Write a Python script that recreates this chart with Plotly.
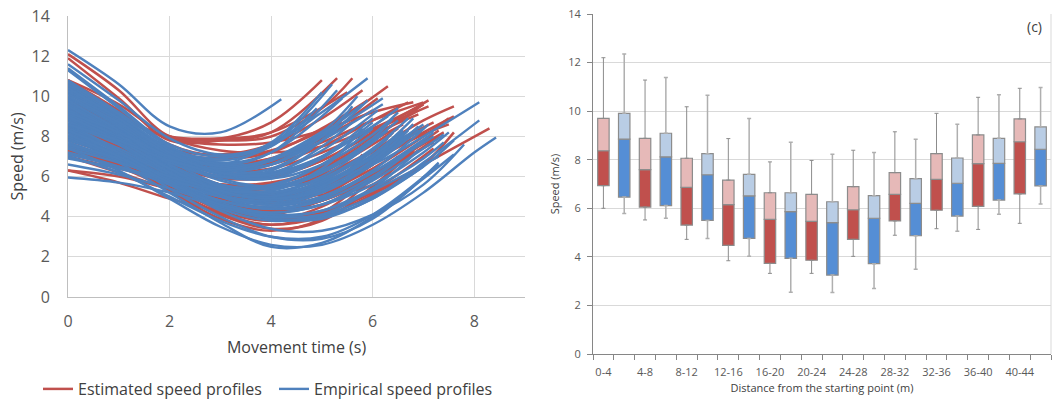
import plotly.graph_objects as go

# ---------------- Left panel: speed profiles ----------------
# speeds at t = 0, 1, 2, ... and the last value at the end time of the profile
red_end_time = [5.0, 5.3, 5.6, 6.3, 6.1, 7.1, 7.6, 7.6, 8.3, 7.4, 7.2, 6.8, 6.5, 6.0, 5.8,
                6.6, 7.0, 6.8, 6.2, 7.0, 6.7, 5.8, 7.5, 6.9, 7.2, 6.4, 7.1, 6.9, 7.3, 5.5,
                6.6, 7.6, 6.0, 6.9, 7.3, 6.4, 7.0, 6.5, 5.9, 7.2, 6.8, 7.5, 6.3, 7.0, 6.7]
red_speed = [
    [12.1, 10.3, 8.0, 7.9, 8.7, 10.8],
    [11.9, 9.9, 7.8, 7.8, 8.2, 10.9],
    [10.8, 9.6, 8.0, 7.8, 8.0, 9.4, 10.9],
    [10.8, 9.3, 7.6, 7.0, 7.3, 8.3, 10.5],
    [10.7, 9.0, 7.3, 6.6, 6.9, 8.0, 9.9],
    [10.5, 8.6, 6.9, 6.0, 6.0, 6.8, 8.2, 9.8],
    [10.6, 8.8, 6.8, 5.6, 5.4, 6.1, 7.3, 8.8, 9.5],
    [9.8, 8.3, 6.4, 5.2, 4.9, 5.6, 6.8, 8.2, 9.0],
    [9.3, 7.8, 6.0, 4.6, 4.0, 4.2, 5.2, 6.6, 8.4],
    [9.0, 7.6, 5.9, 4.6, 4.2, 4.8, 6.2, 8.2],
    [8.8, 7.4, 5.7, 4.3, 3.8, 4.5, 6.0, 7.7],
    [8.5, 7.2, 5.5, 4.1, 3.4, 3.8, 5.5, 7.3],
    [8.2, 7.0, 5.3, 3.9, 3.3, 3.9, 5.9, 7.0],
    [8.0, 6.9, 5.4, 4.2, 3.6, 4.2, 6.2],
    [7.6, 6.7, 5.5, 4.5, 4.1, 5.0, 7.1],
    [7.3, 6.5, 5.6, 4.8, 4.5, 5.2, 6.6, 8.0],
    [7.2, 6.6, 5.8, 5.1, 5.0, 5.6, 6.9, 8.4],
    [6.3, 6.0, 5.4, 4.9, 4.8, 5.4, 6.8, 8.6],
    [6.3, 5.7, 4.9, 4.3, 4.2, 5.0, 7.3],
    [9.5, 8.0, 6.5, 5.6, 5.6, 6.4, 7.9, 9.6],
    [9.8, 8.4, 7.0, 6.4, 6.6, 7.5, 8.8, 9.7],
    [10.2, 8.8, 7.4, 7.1, 7.6, 8.9, 10.3],
    [8.6, 7.4, 6.0, 5.0, 4.7, 5.2, 6.4, 8.0, 8.9],
    [9.2, 7.9, 6.6, 5.9, 6.0, 6.8, 8.1, 9.1],
    [7.8, 7.0, 6.1, 5.5, 5.4, 6.0, 7.2, 8.7],
    [8.9, 7.6, 6.2, 5.2, 5.0, 5.8, 7.3, 8.2],
    [10.0, 8.5, 7.0, 6.3, 6.4, 7.2, 8.3, 9.5],
    [7.5, 6.6, 5.6, 4.7, 4.3, 4.8, 6.0, 7.5],
    [9.9, 8.1, 6.2, 4.9, 4.4, 4.8, 5.9, 8.0],
    [10.5, 9.0, 8.0, 7.9, 8.2, 10.2],
    [7.0, 6.4, 5.9, 5.6, 5.7, 6.4, 7.8, 8.6],
    [8.0, 6.8, 5.3, 4.1, 3.6, 4.0, 5.1, 6.6, 8.2],
    [9.6, 8.3, 7.0, 6.4, 6.7, 7.9, 9.3],
    [9.0, 7.7, 6.4, 5.6, 5.6, 6.5, 8.0, 9.3],
    [8.4, 7.2, 5.8, 4.7, 4.3, 4.8, 6.1, 8.3],
    [7.9, 6.9, 5.7, 4.7, 4.3, 5.0, 6.6, 7.4],
    [10.2, 8.6, 7.1, 6.6, 6.9, 7.7, 8.8, 9.7],
    [8.8, 7.6, 6.3, 5.5, 5.4, 6.2, 7.6, 8.4],
    [9.0, 8.1, 7.2, 6.9, 7.2, 8.4, 9.8],
    [7.4, 6.5, 5.4, 4.4, 3.9, 4.2, 5.3, 7.4],
    [10.4, 9.0, 7.9, 7.6, 7.7, 8.3, 9.2, 9.7],
    [9.1, 7.8, 6.3, 5.3, 5.1, 5.6, 6.8, 8.1, 8.6],
    [8.6, 7.5, 6.1, 5.1, 4.8, 5.4, 7.4],
    [10.8, 9.1, 7.9, 7.3, 7.2, 7.5, 8.4, 9.6],
    [7.0, 6.2, 5.4, 5.0, 5.0, 5.1, 5.6, 7.2],
]

blue_end_time = [4.2, 5.9, 5.2, 8.1, 8.1, 8.43, 7.6, 7.3, 6.5, 6.0, 5.6, 6.8, 7.0, 6.2, 7.2,
                 7.4, 6.6, 5.8, 6.9, 7.1, 6.3, 7.3, 7.0, 5.4, 5.0, 5.7, 6.1, 6.4, 7.5, 7.0,
                 6.7, 5.5, 6.0, 5.3, 4.8, 7.8, 7.3, 6.9, 6.5, 6.2,
                 6.0, 6.3, 6.6, 5.8, 5.5, 6.9, 7.1, 6.4, 5.9, 6.2, 4.9, 6.7, 7.4, 6.1, 6.8,
                 5.6, 7.2, 6.5, 5.1, 6.0, 7.6, 6.6, 5.3, 6.3, 7.0]
blue_speed = [
    [12.3, 10.6, 8.5, 8.2, 9.85],
    [11.6, 9.8, 7.9, 7.1, 7.6, 9.2, 10.9],
    [11.4, 9.5, 7.6, 7.0, 7.6, 10.6],
    [10.2, 8.6, 7.0, 5.9, 5.5, 5.8, 6.6, 8.0, 9.7],
    [8.9, 7.6, 6.0, 4.6, 3.9, 4.0, 4.9, 6.7, 8.8],
    [7.4, 6.3, 4.9, 3.5, 2.6, 2.6, 3.6, 5.2, 7.2, 7.95],
    [8.0, 6.7, 5.2, 3.7, 2.5, 2.7, 4.0, 5.9, 7.1],
    [8.3, 7.0, 5.4, 4.0, 3.0, 2.9, 3.9, 6.7],
    [10.5, 9.0, 7.4, 6.4, 6.2, 7.0, 8.5, 9.4],
    [10.0, 8.6, 7.0, 6.1, 6.0, 7.0, 8.9],
    [9.6, 8.3, 6.8, 6.0, 6.3, 7.8, 9.5],
    [9.4, 8.0, 6.5, 5.4, 5.1, 5.7, 7.1, 8.9],
    [9.0, 7.8, 6.4, 5.4, 5.0, 5.6, 6.9, 8.4],
    [8.7, 7.6, 6.3, 5.4, 5.2, 6.0, 8.1],
    [8.5, 7.3, 5.9, 4.8, 4.4, 4.9, 6.2, 8.2],
    [8.2, 7.1, 5.8, 4.7, 4.2, 4.6, 5.8, 7.4, 8.1],
    [8.0, 7.1, 6.0, 5.2, 5.0, 5.6, 7.0, 8.3],
    [7.8, 7.0, 6.0, 5.3, 5.3, 6.4, 8.4],
    [7.5, 6.8, 5.8, 5.0, 4.7, 5.2, 6.6, 8.5],
    [7.2, 6.5, 5.6, 4.8, 4.5, 5.0, 6.3, 8.6],
    [6.9, 6.4, 5.7, 5.0, 4.8, 5.5, 7.9],
    [6.6, 6.1, 5.4, 4.6, 4.1, 4.3, 5.3, 7.0],
    [5.95, 5.7, 5.2, 4.5, 3.9, 3.9, 4.9, 6.5],
    [10.8, 9.2, 7.5, 6.7, 7.2, 9.9],
    [10.6, 9.0, 7.4, 6.9, 7.7, 10.2],
    [10.2, 8.8, 7.2, 6.5, 6.8, 8.2, 10.0],
    [9.9, 8.5, 7.0, 6.2, 6.2, 7.3, 9.3],
    [9.7, 8.4, 6.9, 5.8, 5.5, 6.3, 7.9, 8.9],
    [9.2, 7.9, 6.3, 5.0, 4.4, 4.6, 5.6, 7.2, 8.2],
    [10.0, 8.5, 6.8, 5.6, 5.2, 5.7, 7.0, 8.6],
    [8.8, 7.6, 6.1, 5.0, 4.6, 5.2, 6.7, 8.3],
    [9.0, 7.9, 6.7, 6.0, 6.3, 7.8, 8.8],
    [8.4, 7.4, 6.2, 5.5, 5.6, 6.6, 8.4],
    [10.4, 8.9, 7.3, 6.6, 7.2, 10.3],
    [9.5, 8.3, 7.0, 6.6, 7.6, 9.0],
    [8.6, 7.3, 5.7, 4.3, 3.4, 3.3, 4.1, 5.6, 7.6],
    [7.0, 6.2, 5.0, 3.8, 3.0, 3.0, 4.1, 6.6],
    [7.9, 6.9, 5.6, 4.4, 3.8, 4.1, 5.4, 7.3],
    [9.3, 8.0, 6.6, 5.6, 5.4, 6.2, 7.8, 8.8],
    [11.3, 9.4, 7.5, 6.6, 6.8, 8.0, 9.9],
    [9.1, 8.0, 6.8, 6.0, 5.9, 6.9, 8.7],
    [8.6, 7.6, 6.4, 5.6, 5.4, 6.2, 8.3],
    [8.3, 7.3, 6.1, 5.2, 4.9, 5.5, 7.0, 8.2],
    [9.9, 8.6, 7.1, 6.3, 6.6, 8.1, 9.6],
    [10.3, 8.8, 7.1, 6.3, 6.6, 8.0, 9.2],
    [8.9, 7.7, 6.2, 5.1, 4.8, 5.3, 6.6, 8.3],
    [7.7, 6.8, 5.7, 4.8, 4.4, 4.8, 6.0, 8.0],
    [7.4, 6.7, 5.9, 5.2, 5.0, 5.8, 7.3, 8.2],
    [9.3, 8.2, 6.9, 6.2, 6.4, 7.8, 9.8],
    [10.1, 8.8, 7.3, 6.5, 6.6, 7.8, 9.6],
    [10.0, 8.7, 7.3, 6.8, 7.5, 9.4],
    [9.6, 8.2, 6.6, 5.5, 5.2, 5.9, 7.4, 8.9],
    [8.0, 6.9, 5.6, 4.5, 4.0, 4.3, 5.4, 6.9, 7.7],
    [7.1, 6.5, 5.8, 5.3, 5.3, 6.2, 7.9],
    [9.8, 8.3, 6.6, 5.3, 4.9, 5.4, 6.8, 8.6],
    [8.9, 7.9, 6.7, 6.0, 6.1, 7.5, 8.7],
    [9.5, 8.1, 6.4, 5.1, 4.6, 5.0, 6.2, 8.0],
    [10.7, 9.1, 7.3, 6.2, 5.9, 6.6, 8.1, 9.2],
    [9.2, 8.2, 7.0, 6.4, 6.9, 8.4],
    [7.6, 6.9, 6.0, 5.4, 5.5, 6.6, 8.4],
    [8.3, 7.2, 5.8, 4.6, 4.0, 4.1, 5.0, 6.5, 7.8],
    [9.0, 7.8, 6.4, 5.3, 4.9, 5.3, 6.6, 7.9],
    [8.6, 7.8, 6.8, 6.3, 6.8, 8.6],
    [10.4, 8.9, 7.2, 6.2, 6.1, 7.0, 9.0],
    [8.1, 7.0, 5.7, 4.6, 4.2, 4.6, 5.9, 7.8],
]

# ---------------- Right panel: box plots by distance ----------------
distance_labels = ["0-4", "4-8", "8-12", "12-16", "16-20", "20-24",
                   "24-28", "28-32", "32-36", "36-40", "40-44"]
red_min = [6.00, 5.52, 4.72, 3.84, 3.32, 3.32, 4.02, 4.89, 5.16, 5.13, 5.38]
red_q1 = [6.93, 6.05, 5.31, 4.47, 3.73, 3.86, 4.72, 5.48, 5.92, 6.08, 6.59]
red_med = [8.37, 7.59, 6.86, 6.15, 5.54, 5.46, 5.94, 6.57, 7.19, 7.84, 8.74]
red_q3 = [9.70, 8.88, 8.06, 7.16, 6.64, 6.57, 6.89, 7.47, 8.25, 9.02, 9.68]
red_max = [12.20, 11.28, 10.18, 8.87, 7.91, 7.97, 8.39, 9.15, 9.91, 10.57, 10.94]

blue_min = [5.79, 5.59, 4.76, 4.02, 2.54, 2.53, 2.70, 3.49, 5.05, 5.75, 6.18]
blue_q1 = [6.46, 6.11, 5.50, 4.76, 3.94, 3.25, 3.72, 4.87, 5.68, 6.34, 6.92]
blue_med = [8.85, 8.12, 7.38, 6.51, 5.86, 5.41, 5.59, 6.20, 7.03, 7.85, 8.43]
blue_q3 = [9.91, 9.09, 8.25, 7.40, 6.64, 6.27, 6.52, 7.22, 8.07, 8.88, 9.35]
blue_max = [12.35, 11.39, 10.65, 9.70, 8.72, 8.22, 8.30, 8.84, 9.46, 10.68, 10.97]

RED = "#C0504D"
BLUE = "#4F81BD"
FONT = "Open Sans"
W, H = 1052, 400

fig = go.Figure()


def profile_times(speeds, end_time):
    return list(range(len(speeds) - 1)) + [end_time]


for i, (v, T) in enumerate(zip(red_speed, red_end_time)):
    fig.add_trace(go.Scatter(
        x=profile_times(v, T), y=v, mode="lines",
        line=dict(color=RED, width=2.5, shape="spline", smoothing=1.0),
        name="Estimated speed profiles", legendgroup="est", showlegend=(i == 0),
        xaxis="x", yaxis="y", hoverinfo="skip"))

for i, (v, T) in enumerate(zip(blue_speed, blue_end_time)):
    fig.add_trace(go.Scatter(
        x=profile_times(v, T), y=v, mode="lines",
        line=dict(color=BLUE, width=2.4, shape="spline", smoothing=1.0),
        name="Empirical speed profiles", legendgroup="emp", showlegend=(i == 0),
        xaxis="x", yaxis="y", hoverinfo="skip"))

# box plots: red at even slots, blue at odd slots
n = len(distance_labels)
red_x = [2 * i for i in range(n)]
blue_x = [2 * i + 1 for i in range(n)]
BOX_W = 0.55
BORDER = dict(color="#8C8C8C", width=1.2)


def add_boxes(xs, mn, q1, med, q3, mx, dark, light, wcolor, wwidth):
    # whiskers (drawn through error bars)
    fig.add_trace(go.Scatter(
        x=xs, y=q3, mode="markers", marker=dict(size=1, opacity=0),
        error_y=dict(type="data", symmetric=False,
                     array=[b - a for a, b in zip(q3, mx)],
                     arrayminus=[0] * len(xs), color=wcolor,
                     thickness=wwidth, width=2),
        xaxis="x2", yaxis="y2", showlegend=False, hoverinfo="skip"))
    fig.add_trace(go.Scatter(
        x=xs, y=q1, mode="markers", marker=dict(size=1, opacity=0),
        error_y=dict(type="data", symmetric=False,
                     array=[0] * len(xs),
                     arrayminus=[a - b for a, b in zip(q1, mn)], color=wcolor,
                     thickness=wwidth, width=2),
        xaxis="x2", yaxis="y2", showlegend=False, hoverinfo="skip"))
    fig.add_trace(go.Bar(
        x=xs, y=[b - a for a, b in zip(q1, med)], base=q1, width=BOX_W,
        marker=dict(color=dark, line=BORDER),
        xaxis="x2", yaxis="y2", showlegend=False, hoverinfo="skip"))
    fig.add_trace(go.Bar(
        x=xs, y=[b - a for a, b in zip(med, q3)], base=med, width=BOX_W,
        marker=dict(color=light, line=BORDER),
        xaxis="x2", yaxis="y2", showlegend=False, hoverinfo="skip"))


add_boxes(red_x, red_min, red_q1, red_med, red_q3, red_max,
          "#C0504D", "#E6B9B8", "#8C8C8C", 1)
add_boxes(blue_x, blue_min, blue_q1, blue_med, blue_q3, blue_max,
          "#558ED5", "#B9CDE5", "#AFAFAF", 1.5)

GRID = "#D9D9D9"
TXT = "#595959"

fig.update_layout(
    width=W, height=H,
    margin=dict(l=0, r=0, t=0, b=0, autoexpand=False),
    paper_bgcolor="white", plot_bgcolor="white",
    font=dict(family=FONT, color=TXT),
    barmode="overlay",
    showlegend=True,
    legend=dict(orientation="h", x=38 / W, y=11 / H, xanchor="left", yanchor="middle",
                font=dict(size=16, color="#404040", family=FONT),
                entrywidth=191, entrywidthmode="pixels", itemwidth=30,
                bgcolor="rgba(0,0,0,0)"),
    xaxis=dict(domain=[68 / W, 525 / W], range=[0, 9], dtick=2, tick0=0,
               automargin=False,
               showgrid=True, gridcolor=GRID, gridwidth=1, zeroline=False,
               showline=True, linecolor="#BFBFBF", ticks="",
               tickfont=dict(size=16, color=TXT), ticklabelstandoff=10,
               title=dict(text="Movement time (s)", font=dict(size=16, color="#404040"),
                          standoff=10)),
    yaxis=dict(domain=[1 - 297 / H, 1 - 16 / H], range=[0, 14], dtick=2, tick0=0,
               automargin=False,
               showgrid=True, gridcolor=GRID, gridwidth=1, zeroline=False,
               showline=True, linecolor="#BFBFBF", ticks="",
               tickfont=dict(size=16, color=TXT), ticklabelstandoff=14,
               title=dict(text="Speed (m/s)", font=dict(size=16, color="#404040"),
                          standoff=3)),
    xaxis2=dict(domain=[593 / W, 1051 / W], range=[-0.5, 2 * n - 0.5],
                automargin=False,
                tickmode="array", tickvals=red_x, ticktext=distance_labels,
                ticks="", showgrid=False, zeroline=False,
                showline=True, linecolor="#868686",
                minor=dict(tick0=-0.5, dtick=1, ticks="outside", ticklen=5,
                           tickcolor="#868686", showgrid=False),
                tickfont=dict(size=11, color=TXT), ticklabelstandoff=8,
                title=dict(text="Distance from the starting point (m)",
                           font=dict(size=11, color="#404040"), standoff=6),
                anchor="y2"),
    yaxis2=dict(domain=[1 - 354 / H, 1 - 14 / H], range=[0, 14], dtick=2, tick0=0,
                automargin=False,
                showgrid=True, gridcolor=GRID, gridwidth=1, zeroline=False,
                showline=True, linecolor="#868686", ticks="outside", ticklen=5,
                tickcolor="#868686",
                tickfont=dict(size=11, color=TXT), ticklabelstandoff=4,
                title=dict(text="Speed (m/s)", font=dict(size=11, color="#404040"),
                           standoff=6),
                anchor="x2"),
    shapes=[dict(type="line", xref="x2 domain", yref="y2 domain",
                 x0=1, x1=1, y0=0, y1=1, line=dict(color=GRID, width=1))],
    annotations=[dict(text="(c)", xref="x2 domain", yref="y2 domain", x=0.985, y=0.962,
                      xanchor="right", yanchor="middle", showarrow=False,
                      font=dict(size=14, color="#404040", family=FONT))],
)

fig.write_html("out.html")
